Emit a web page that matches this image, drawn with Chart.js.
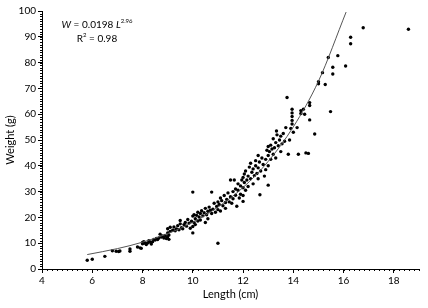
<!DOCTYPE html>
<html>
<head>
<meta charset="utf-8">
<script src="https://cdn.jsdelivr.net/npm/chart.js@4/dist/chart.umd.min.js"></script>
<style>
 html,body{margin:0;padding:0;background:#fff;}
 canvas{display:block;}
</style>
</head>
<body>
<canvas id="lw" width="428" height="308"></canvas>
<script>
// length (cm) / weight (g) pairs
const lengthCm=[
 5.8,6.0,6.5,6.8,6.95,7.05,7.1,7.5,7.5,7.8,7.9,7.95,
 8.0,8.0,8.05,8.1,8.15,8.2,8.25,8.3,8.35,8.4,8.45,8.5,8.55,8.6,8.65,8.7,8.75,8.8,8.85,8.9,8.95,9.0,9.0,9.0,9.05,9.05,9.1,9.1,
 9.2,9.25,9.3,9.35,9.4,9.45,9.5,9.5,9.55,9.6,9.65,9.7,9.75,9.8,9.85,9.9,9.95,10.0,10.0,10.0,10.0,
 10.05,10.05,10.1,10.1,10.15,10.2,10.2,10.25,10.3,10.3,10.35,10.4,10.45,10.5,10.5,10.55,10.6,10.6,10.65,10.7,10.75,10.75,10.8,10.85,10.9,10.95,11.0,11.0,11.0,
 11.05,11.1,11.1,11.15,11.2,11.25,11.3,11.3,11.35,11.4,11.45,11.5,11.5,11.55,11.6,11.6,11.65,11.7,11.7,11.75,11.8,11.8,11.85,11.9,11.9,11.95,12.0,12.0,12.0,12.0,
 12.05,12.05,12.1,12.1,12.15,12.2,12.2,12.25,12.3,12.3,12.35,12.4,12.4,12.45,12.5,12.5,12.55,12.6,12.6,12.6,12.65,12.67,12.7,12.75,12.8,12.85,12.9,12.9,12.95,13.0,13.0,13.0,13.0,
 13.05,13.1,13.1,13.15,13.2,13.2,13.25,13.3,13.3,13.33,13.35,13.4,13.45,13.5,13.5,13.55,13.6,13.65,13.7,13.75,13.8,13.85,13.9,13.95,13.95,13.95,13.95,13.95,14.0,
 14.15,14.2,14.3,14.3,14.4,14.45,14.5,14.6,14.65,14.65,14.65,14.85,15.0,15.0,15.16,15.27,15.39,15.48,15.57,15.57,15.77,16.08,16.28,16.28,16.78,18.58
];
const weightG=[
 3.4,3.8,4.9,7.1,6.9,6.8,7.0,7.8,6.9,8.5,8.2,8.0,
 10.3,9.8,10.6,10.0,9.5,10.1,11.0,10.4,9.7,10.6,11.5,11.2,11.8,11.4,12.0,13.5,12.4,12.8,12.0,13.0,11.8,12.5,14.0,15.6,11.5,13.2,14.6,16.2,
 15.0,16.3,14.8,15.5,16.8,15.2,17.5,18.8,16.0,15.6,17.2,18.0,16.6,19.2,17.8,15.8,18.5,14.0,16.5,20.5,29.8,
 18.0,21.0,19.5,17.2,20.8,22.0,18.6,20.2,21.5,19.0,22.6,20.6,21.8,18.0,23.5,21.0,22.4,19.5,24.0,22.8,29.8,21.5,23.2,25.5,22.0,24.2,10.0,26.0,23.0,
 25.0,27.5,22.5,26.5,24.5,28.5,25.8,23.5,27.0,29.5,26.0,28.0,34.5,25.5,30.0,27.2,34.5,31.0,28.6,24.3,33.0,30.5,27.5,32.2,29.0,34.5,31.5,35.5,28.5,26.2,
 33.5,36.8,30.5,38.0,34.5,36.0,32.0,39.5,35.0,41.0,37.5,33.0,38.8,36.2,40.0,42.0,37.0,39.2,35.0,44.0,41.5,28.8,38.0,43.0,40.5,36.0,42.5,38.5,46.0,44.0,40.0,47.5,32.5,
 45.5,48.0,42.5,46.5,44.5,50.5,47.0,49.0,43.0,53.5,52.0,47.8,50.0,45.5,51.5,48.5,52.5,49.5,54.8,66.5,44.5,50.0,54.5,61.9,60.5,59.1,57.6,56.2,53.0,
 54.8,44.5,61.4,60.3,61.9,60.0,45.0,44.8,64.5,63.4,57.8,52.3,72.6,71.8,76.1,71.5,82.0,61.0,78.2,75.6,82.7,78.7,89.8,87.3,93.5,92.9
];
// fitted curve, points
const fitL=[5.8,7,8,9,10,11,12,13,14,15,16.1];
const fitW=[5.6,7.9,10.4,13.7,18.1,24.0,31.6,41.7,55.1,72.8,99.6];

const xTicks=[4,6,8,10,12,14,16,18];
const yTicks=[0,10,20,30,40,50,60,70,80,90,100];

const FONT="Lato, 'Open Sans', sans-serif";

const minorTicks={
 id:"minorTicks",
 afterDraw(chart){
  const ctx=chart.ctx,xs=chart.scales.x,ys=chart.scales.y;
  ctx.save();
  ctx.strokeStyle="#000";
  ctx.lineWidth=1;
  ctx.beginPath();
  for(let i=0;i<=75;i++){
   let px=Math.round(xs.getPixelForValue(4+i*0.2))+0.5;
   ctx.moveTo(px,ys.bottom);ctx.lineTo(px,ys.bottom+2);
  }
  for(let i=0;i<=100;i++){
   let py=Math.round(ys.getPixelForValue(i))+0.5;
   ctx.moveTo(xs.left,py);ctx.lineTo(xs.left-2,py);
  }
  ctx.stroke();
  ctx.restore();
 }
};

const equation={
 id:"equation",
 afterDraw(chart){
  const ctx=chart.ctx,a=chart.chartArea;
  const cx=a.left+55,y1=a.top+14,y2=a.top+28;
  ctx.save();
  ctx.fillStyle="#000";
  ctx.textBaseline="middle";
  let parts=[
   ["italic 10px "+FONT,"W",0],
   ["10px "+FONT," = 0.0198 ",0],
   ["italic 10px "+FONT,"L",0],
   ["6px "+FONT,"2.96",-4]
  ];
  let w=0;
  parts.forEach(p=>{ctx.font=p[0];w+=ctx.measureText(p[1]).width;});
  let x=cx-w/2;
  ctx.textAlign="left";
  parts.forEach(p=>{ctx.font=p[0];ctx.fillText(p[1],x,y1+p[2]);x+=ctx.measureText(p[1]).width;});
  ctx.font="10px "+FONT;
  let r1="R",r2="2",r3=" = 0.98";
  let wr=ctx.measureText(r1).width+ctx.measureText(r3).width;
  ctx.font="6px "+FONT;wr+=ctx.measureText(r2).width;
  x=cx-wr/2;
  ctx.font="10px "+FONT;ctx.fillText(r1,x,y2);x+=ctx.measureText(r1).width;
  ctx.font="6px "+FONT;ctx.fillText(r2,x,y2-4);x+=ctx.measureText(r2).width;
  ctx.font="10px "+FONT;ctx.fillText(r3,x,y2);
  ctx.restore();
 }
};

new Chart(document.getElementById("lw"),{
 type:"scatter",
 data:{
  datasets:[
   {
    data:lengthCm.map((l,i)=>({x:l,y:weightG[i]})),
    pointRadius:1.7,
    pointBackgroundColor:"#000",
    pointBorderWidth:0,
    order:1
   },
   {
    type:"line",
    data:fitL.map((l,i)=>({x:l,y:fitW[i]})),
    borderColor:"#555",
    borderWidth:1,
    pointRadius:0,
    cubicInterpolationMode:"monotone",
    fill:false,
    order:0
   }
  ]
 },
 options:{
  responsive:false,
  animation:false,
  layout:{padding:{top:11,right:9,left:0,bottom:0}},
  plugins:{legend:{display:false},tooltip:{enabled:false}},
  scales:{
   x:{
    type:"linear",min:4,max:19,
    afterBuildTicks:s=>{s.ticks=xTicks.map(v=>({value:v}));},
    afterFit:s=>{s.height=39;},
    ticks:{color:"#000",font:{family:FONT,size:10},padding:2,maxRotation:0},
    grid:{drawOnChartArea:false,color:"#000",tickLength:4,tickWidth:1},
    border:{color:"#000",width:1},
    title:{display:true,text:"Length (cm)",color:"#000",font:{family:FONT,size:11},padding:{top:0,bottom:7}}
   },
   y:{
    min:0,max:100,
    afterBuildTicks:s=>{s.ticks=yTicks.map(v=>({value:v}));},
    afterFit:s=>{s.width=42;},
    ticks:{color:"#000",font:{family:FONT,size:10},padding:2},
    grid:{drawOnChartArea:false,color:"#000",tickLength:4,tickWidth:1},
    border:{color:"#000",width:1},
    title:{display:true,text:"Weight (g)",color:"#000",font:{family:FONT,size:11},padding:{top:4,bottom:0}}
   }
  }
 },
 plugins:[minorTicks,equation]
});
</script>
</body>
</html>
